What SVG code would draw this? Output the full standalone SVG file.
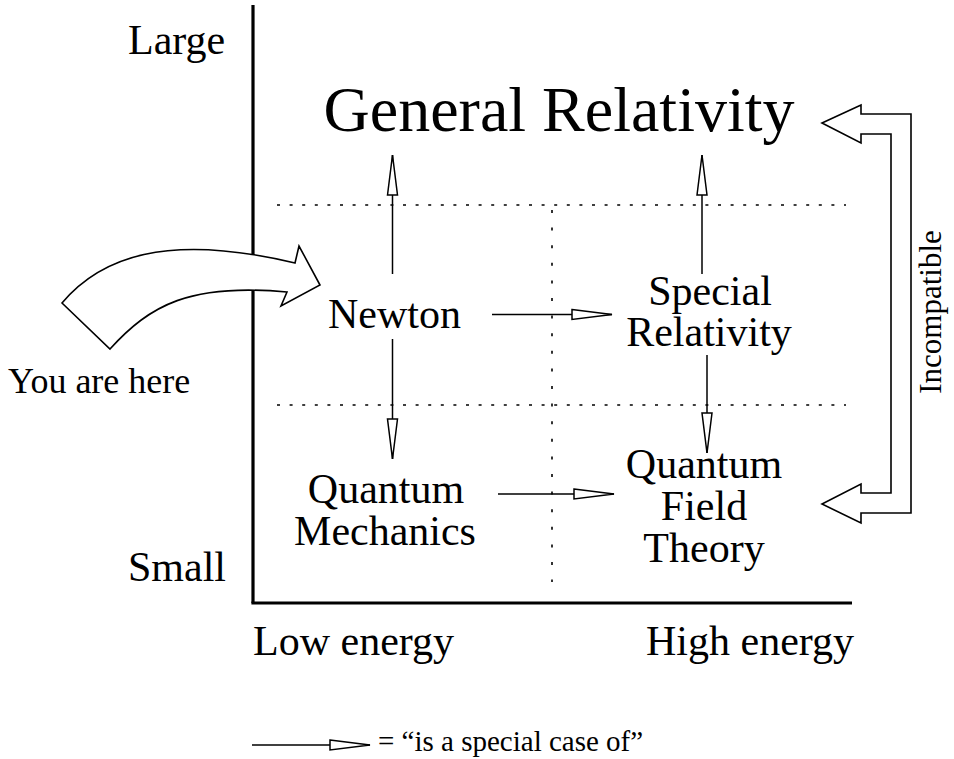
<svg xmlns="http://www.w3.org/2000/svg" width="954" height="759" viewBox="0 0 954 759">
<defs>
<style>
text{font-family:"Liberation Serif","Times New Roman",serif;fill:#000}
.t42{font-size:42px}
.mid{text-anchor:middle}
.axis{stroke:#000;stroke-width:3.2;fill:none}
.dot{stroke:#000;stroke-width:1.6;fill:none}
.conn{stroke:#000;stroke-width:1.5;fill:none}
.big{stroke:#000;stroke-width:1.6;fill:#fff;stroke-linejoin:miter}
</style>
<marker id="head" markerUnits="userSpaceOnUse" markerWidth="44" markerHeight="14" viewBox="-1 -7 43 14" refX="40" refY="0" orient="auto">
<path d="M0,-5 L40,0 L0,5 Z" fill="#fff" stroke="#000" stroke-width="1.5"/>
</marker>
</defs>
<rect width="954" height="759" fill="#fff"/>

<g id="axes">
<line class="axis" x1="253" y1="5" x2="253" y2="603"/>
<line class="axis" x1="251.4" y1="603" x2="852" y2="603"/>
</g>
<g id="grid">
<line class="dot" x1="277" y1="205" x2="846" y2="205" stroke-dasharray="3 9.6"/>
<line class="dot" x1="277" y1="405" x2="846" y2="405" stroke-dasharray="3 9.6"/>
<line class="dot" x1="552" y1="210" x2="552" y2="582" stroke-dasharray="3 14.6"/>
</g>

<g id="axis-labels">
<text class="t42" x="128" y="54">Large</text>
<text class="t42" x="128" y="581">Small</text>
<text class="t42" x="253" y="655">Low energy</text>
<text class="t42" x="646" y="655">High energy</text>
</g>

<g id="general-relativity">
<text class="mid" x="559" y="131" font-size="64">General Relativity</text>
</g>
<g id="newton">
<text class="t42 mid" x="394.5" y="328">Newton</text>
</g>
<g id="special-relativity">
<text class="t42 mid" x="710" y="305">Special</text>
<text class="t42 mid" x="709" y="346">Relativity</text>
</g>
<g id="quantum-mechanics">
<text class="t42 mid" x="386" y="503">Quantum</text>
<text class="t42 mid" x="385" y="545">Mechanics</text>
</g>
<g id="quantum-field-theory">
<text class="t42 mid" x="704" y="478">Quantum</text>
<text class="t42 mid" x="704" y="520">Field</text>
<text class="t42 mid" x="704" y="562">Theory</text>
</g>

<g id="you-are-here">
<path class="big" d="M62,303 C100,258 165,232 295,263 L299,246 L320,285 L281,306 L287,292 C190,283 150,305 110,349 Z"/>
<text x="8" y="393" font-size="36">You are here</text>
</g>

<g id="incompatible">
<path class="big" d="M822,123 L861,105 L861,114 L911,114 L911,513 L861,513 L861,523 L822,504 L861,484 L861,493 L891,493 L891,134 L861,134 L861,143 Z"/>
<text class="mid" transform="translate(941,312) rotate(-90)" font-size="31">Incompatible</text>
</g>

<g id="connectors">
<line class="conn" x1="392.5" y1="274" x2="392.5" y2="155" marker-end="url(#head)"/>
<line class="conn" x1="702" y1="274" x2="702" y2="155" marker-end="url(#head)"/>
<line class="conn" x1="392.5" y1="339" x2="392.5" y2="459" marker-end="url(#head)"/>
<line class="conn" x1="707" y1="355" x2="707" y2="453" marker-end="url(#head)"/>
<line class="conn" x1="492" y1="314.5" x2="612" y2="314.5" marker-end="url(#head)"/>
<line class="conn" x1="498" y1="494" x2="614" y2="494" marker-end="url(#head)"/>
</g>

<g id="legend">
<line class="conn" x1="252" y1="745" x2="370" y2="745" marker-end="url(#head)"/>
<text x="378" y="751" font-size="29">= “is a special case of”</text>
</g>
</svg>
